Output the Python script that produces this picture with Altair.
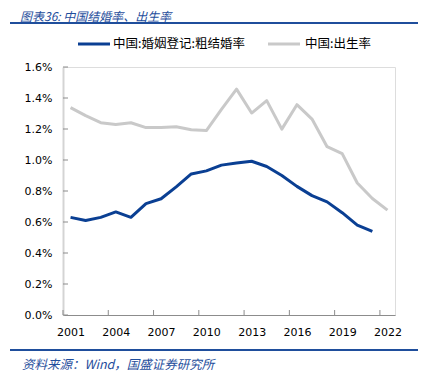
import altair as alt
import pandas as pd

years = list(range(2001, 2023))
marriage_rate = [0.63, 0.61, 0.63, 0.665, 0.63, 0.719, 0.75, 0.827, 0.91, 0.93,
                 0.967, 0.98, 0.992, 0.958, 0.90, 0.83, 0.77, 0.73, 0.66, 0.58, 0.54, None]
birth_rate = [1.338, 1.286, 1.241, 1.229, 1.240, 1.209, 1.210, 1.214, 1.195, 1.190,
              1.327, 1.457, 1.303, 1.383, 1.199, 1.357, 1.264, 1.086, 1.041, 0.852, 0.752, 0.677]
series_names = ["中国:婚姻登记:粗结婚率", "中国:出生率"]
x_tick_labels = [2001, 2004, 2007, 2010, 2013, 2016, 2019, 2022]
y_ticks = [0.0, 0.002, 0.004, 0.006, 0.008, 0.010, 0.012, 0.014, 0.016]
x_tick_marks = [2000.5, 2003.5, 2006.5, 2009.5, 2012.5, 2015.5, 2018.5, 2021.5]

title_text = "图表36:  中国结婚率、出生率"
source_text = "资料来源：Wind，国盛证券研究所"

BLUE = "#0a3f93"
GRAY = "#c9c9c9"
TXT_BLUE = "#1f4e9c"

rows = []
for y, m, b in zip(years, marriage_rate, birth_rate):
    if m is not None:
        rows.append({"year": y, "value": m / 100, "series": series_names[0]})
    rows.append({"year": y, "value": b / 100, "series": series_names[1]})
df = pd.DataFrame(rows)

W, H = 332, 248

xscale = alt.Scale(domain=[2000.5, 2022.5], nice=False, zero=False)
yscale = alt.Scale(domain=[0, 0.016], nice=False)

x_axis = alt.Axis(values=x_tick_labels, format="d", title=None, grid=False,
                  ticks=False, domainColor="#8c8c8c", domainWidth=1.2,
                  labelFont="DejaVu Sans", labelFontSize=11, labelColor="#000",
                  labelPadding=11, labelFlush=False, labelOverlap=False)
y_axis = alt.Axis(values=y_ticks, format=".1%", title=None, grid=False,
                  ticks=False, domainColor="#d4d4d4", domainWidth=2,
                  labelFont="DejaVu Sans", labelFontSize=11, labelColor="#000",
                  labelPadding=11, labelOverlap=False, labelFlush=False)

lines = alt.Chart(df).mark_line(strokeWidth=3, strokeJoin="round").encode(
    x=alt.X("year:Q", scale=xscale, axis=x_axis),
    y=alt.Y("value:Q", scale=yscale, axis=y_axis),
    color=alt.Color("series:N", scale=alt.Scale(domain=series_names, range=[BLUE, GRAY]),
                    legend=None),
    detail="series:N",
)

xt = alt.Chart(pd.DataFrame({"t": x_tick_marks})).mark_rule(color="#8c8c8c", strokeWidth=1).encode(
    x=alt.X("t:Q", scale=xscale, axis=x_axis), y=alt.value(H), y2=alt.value(H - 5))
yt = alt.Chart(pd.DataFrame({"t": y_ticks})).mark_rule(color="#8c8c8c", strokeWidth=1).encode(
    y=alt.Y("t:Q", scale=yscale, axis=y_axis), x=alt.value(0), x2=alt.value(5))

leg_l1 = alt.Chart(pd.DataFrame({"a": [1]})).mark_rule(strokeWidth=3, color=BLUE).encode(
    x=alt.value(15), x2=alt.value(47), y=alt.value(-23))
leg_l2 = alt.Chart(pd.DataFrame({"a": [1]})).mark_rule(strokeWidth=3, color=GRAY).encode(
    x=alt.value(205), x2=alt.value(237), y=alt.value(-23))
leg_t1 = alt.Chart(pd.DataFrame({"s": [series_names[0]]})).mark_text(
    align="left", baseline="middle", font="Noto Sans CJK SC", fontSize=12.5, color="#000").encode(
    text="s:N", x=alt.value(50), y=alt.value(-23))
leg_t2 = alt.Chart(pd.DataFrame({"s": [series_names[1]]})).mark_text(
    align="left", baseline="middle", font="Noto Sans CJK SC", fontSize=12.5, color="#000").encode(
    text="s:N", x=alt.value(242), y=alt.value(-23))

title_t = alt.Chart(pd.DataFrame({"s": [title_text]})).mark_text(
    align="left", baseline="middle", font="Noto Sans CJK SC", fontSize=12, fontStyle="italic",
    color=TXT_BLUE).encode(text="s:N", x=alt.value(-43), y=alt.value(-50))
title_rule = alt.Chart(pd.DataFrame({"a": [1]})).mark_rule(strokeWidth=2, color=TXT_BLUE).encode(
    x=alt.value(-53), x2=alt.value(363), y=alt.value(-44))
src_rule = alt.Chart(pd.DataFrame({"a": [1]})).mark_rule(strokeWidth=2, color=TXT_BLUE).encode(
    x=alt.value(-53), x2=alt.value(363), y=alt.value(283))
src_t = alt.Chart(pd.DataFrame({"s": [source_text]})).mark_text(
    align="left", baseline="middle", font="Noto Sans CJK SC", fontSize=12.5, fontStyle="italic",
    color=TXT_BLUE).encode(text="s:N", x=alt.value(-41), y=alt.value(298))

chart = alt.layer(lines, xt, yt, leg_l1, leg_l2, leg_t1, leg_t2, title_t, title_rule,
                  src_rule, src_t).properties(
    width=W, height=H,
    autosize=alt.AutoSizeParams(type="none"),
    padding={"left": 55, "top": 59, "right": 23, "bottom": 62},
).configure_view(stroke=None).configure(background="white")

chart.save("out.html", embed_options={"renderer": "svg", "actions": False})
